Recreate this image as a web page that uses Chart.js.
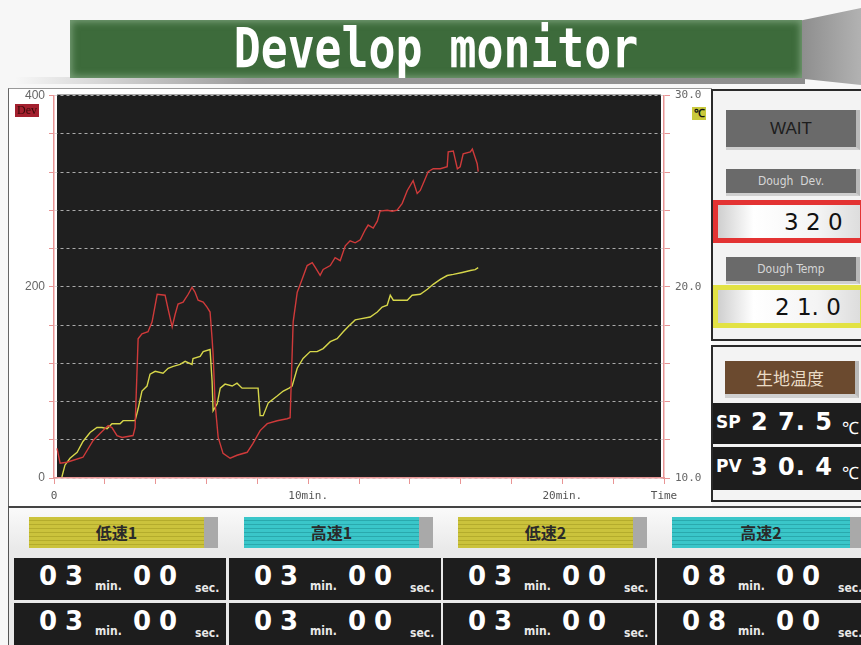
<!DOCTYPE html>
<html>
<head>
<meta charset="utf-8">
<script src="https://cdn.jsdelivr.net/npm/chart.js@4.4.1/dist/chart.umd.min.js"></script>
<style>
  body { margin:0; width:861px; height:645px; background:#f7f7f7; position:relative; overflow:hidden; font-family:'Liberation Sans', sans-serif; }
  .a { position:absolute; box-sizing:border-box; }
  .title { left:70px; top:20px; width:732px; height:58px; background:#3d6b3b; box-shadow: inset 0 0 7px 2px rgba(170,200,170,.55); overflow:hidden; }
  .title span { position:absolute; left:0; right:0; top:-5px; text-align:center; font-family:'DejaVu Sans Mono', monospace; font-weight:bold; font-size:56px; color:#fff; transform:scaleX(0.8); }
  .btn { background:#6a6a6a; text-align:center; border-right:4px solid #b9b9b9; border-bottom:3px solid #cfcfcf; }
  .lbl { color:#d6d6d6; font-family:'DejaVu Sans Condensed','DejaVu Sans',sans-serif; font-size:12px; }
  .valbox { left:713px; width:152px; height:43px; background:linear-gradient(90deg,#cfcfcf,#fff 25%,#f4f4f4 70%,#ddd); font-family:'DejaVu Sans',sans-serif; font-size:23px; color:#111; }
  .dark { background:#1d1d1d; color:#fff; }
  .big { font-family:'DejaVu Sans',sans-serif; font-weight:bold; }
  .stage { height:31px; text-align:center; line-height:31px; font-family:'Noto Sans CJK JP',sans-serif; font-weight:bold; font-size:16px; color:#2a2a2a; border-right:14px solid #a9a9a9; }
  .yel { background:repeating-linear-gradient(0deg,#cbc33c 0 3px,#b4ac2c 3px 4px); }
  .cyn { background:repeating-linear-gradient(0deg,#3ac6c9 0 3px,#2aa9ad 3px 4px); }
  .unit { font-family:'DejaVu Sans Condensed','DejaVu Sans',sans-serif; font-weight:bold; font-size:12px; color:#e8e8e8; }
</style>
</head>
<body>
<!-- title -->
<div class="a" style="left:15px;top:77px;width:790px;height:7px;background:linear-gradient(90deg,rgba(150,150,150,0),#9a9a9a 30%,#8c8c8c);"></div>
<div class="a" style="left:802px;top:8px;width:59px;height:77px;background:linear-gradient(90deg,#8e8e8e,#b2b2b2);clip-path:polygon(0 16%,100% 0,100% 100%,0 92%);"></div>
<div class="a title"><span>Develop monitor</span></div>

<!-- chart frame -->
<div class="a" style="left:8px;top:88px;width:704px;height:419px;background:#fff;border-left:1px solid #666;border-top:1px solid #999;"></div>
<div class="a" style="left:8px;top:84px;width:702px;height:421px;"><canvas id="chart" width="702" height="421"></canvas></div>
<div class="a" style="left:15px;top:104px;width:24px;height:13px;background:#a3202e;color:#3a0a0a;font-family:'Liberation Serif',serif;font-size:12px;line-height:13px;text-align:center;">Dev</div>
<div class="a" style="left:692px;top:107px;width:14px;height:13px;background:#c9c93c;color:#111;font-size:11px;line-height:13px;text-align:center;font-weight:bold;">℃</div>

<!-- right panel -->
<div class="a" style="left:711px;top:89px;width:152px;height:252px;border:2px solid #2a2a2a;background:#f3f3f3;"></div>
<div class="a btn" style="left:726px;top:110px;width:134px;height:40px;line-height:37px;font-size:17px;color:#1d1d1d;">WAIT</div>
<div class="a btn lbl" style="left:726px;top:169px;width:134px;height:27px;line-height:24px;">Dough&nbsp; Dev.</div>
<div class="a valbox" style="top:200px;border:5px solid #e33333;"><span class="a" style="left:66px;top:4px;">3 2 0</span></div>
<div class="a btn lbl" style="left:726px;top:257px;width:134px;height:27px;line-height:24px;">Dough Temp</div>
<div class="a valbox" style="top:285px;border:5px solid #e2e244;"><span class="a" style="left:57px;top:4px;">2 1. 0</span></div>

<div class="a" style="left:711px;top:345px;width:152px;height:157px;border:2px solid #2a2a2a;background:#f3f3f3;"></div>
<div class="a" style="left:725px;top:361px;width:134px;height:37px;background:#6b4a2f;border-right:4px solid #b9b9b9;border-bottom:4px solid #cfcfcf;color:#eadcc6;font-family:'Noto Sans CJK JP',sans-serif;font-size:17px;line-height:33px;text-align:center;">生地温度</div>
<div class="a dark" style="left:713px;top:403px;width:150px;height:41px;">
  <span class="a big" style="left:3px;top:9px;font-size:17px;">SP</span>
  <span class="a big" style="left:38px;top:5px;font-size:24px;letter-spacing:1px;">2 7. 5</span>
  <span class="a" style="left:129px;top:13px;font-size:17px;">℃</span>
</div>
<div class="a dark" style="left:713px;top:447px;width:150px;height:43px;">
  <span class="a big" style="left:3px;top:9px;font-size:17px;">PV</span>
  <span class="a big" style="left:38px;top:6px;font-size:24px;letter-spacing:1px;">3 0. 4</span>
  <span class="a" style="left:129px;top:14px;font-size:17px;">℃</span>
</div>

<!-- bottom panel -->
<div class="a" style="left:8px;top:506px;width:860px;height:145px;border-left:1px solid #555;border-top:2px solid #444;background:linear-gradient(#fafafa,#e9e9e9 30%);"></div>
<div id="stages"></div>

<script>
// chart data (time in minutes)
const devTime = [0.12, 0.24, 0.51, 1.14, 1.54, 1.81, 2.13, 2.28, 2.48, 2.68, 3.11, 3.19, 3.31, 3.46, 3.70, 3.86, 4.06, 4.37, 4.49, 4.65, 4.76, 4.88, 5.08, 5.28, 5.43, 5.55, 5.67, 5.87, 6.02, 6.14, 6.22, 6.26, 6.34, 6.46, 6.65, 6.93, 7.20, 7.60, 7.83, 8.11, 8.39, 8.78, 9.17, 9.29, 9.41, 9.57, 9.69, 9.96, 10.16, 10.28, 10.47, 10.59, 10.87, 11.06, 11.26, 11.46, 11.65, 11.85, 12.05, 12.24, 12.36, 12.56, 12.72, 12.83, 13.11, 13.31, 13.50, 13.70, 13.90, 14.13, 14.29, 14.41, 14.61, 14.72, 14.92, 15.20, 15.47, 15.51, 15.71, 15.87, 15.98, 16.10, 16.38, 16.46, 16.65, 16.69];
const devValues = [31, 15.5, 16.5, 21.7, 39.3, 46.5, 54.8, 52.7, 44.4, 42.4, 44.4, 52.7, 145.7, 150.9, 153, 163.3, 192.2, 191.2, 176.7, 158.1, 170.5, 181.9, 184, 192.2, 199.5, 194.3, 186, 184, 178.8, 173.6, 145.7, 129.2, 77.5, 42.4, 25.8, 20.7, 23.8, 26.9, 36.2, 49.6, 56.8, 59.9, 62, 63, 163.3, 194.3, 202.6, 222.2, 225.3, 220.2, 211.9, 218.1, 222.2, 230.5, 227.4, 242.9, 248.1, 246, 249.1, 259.4, 264.6, 261.5, 268.7, 279.1, 280.1, 279.1, 280.1, 287.3, 300.8, 311.1, 297.7, 300.8, 313.2, 320.4, 323.5, 323.5, 325.6, 341.1, 342.1, 323.5, 325.6, 339, 341.1, 344.2, 328.7, 320.4];
const tempTime = [0.31, 0.43, 0.63, 0.91, 1.14, 1.42, 1.69, 1.89, 2.09, 2.28, 2.60, 2.72, 3.19, 3.31, 3.46, 3.66, 3.78, 3.98, 4.29, 4.49, 4.69, 4.96, 5.16, 5.43, 5.47, 5.75, 5.87, 6.14, 6.22, 6.26, 6.42, 6.54, 6.73, 7.01, 7.20, 7.40, 8.03, 8.11, 8.23, 8.43, 8.78, 9.02, 9.25, 9.37, 9.57, 9.80, 10.08, 10.35, 10.59, 10.87, 11.14, 11.38, 11.57, 11.85, 12.05, 12.44, 12.72, 12.91, 13.11, 13.23, 13.35, 13.90, 14.09, 14.41, 14.69, 14.92, 15.20, 15.47, 15.71, 16.06, 16.38, 16.57, 16.69];
const tempValues = [10.05, 10.67, 11.03, 11.34, 11.91, 12.38, 12.64, 12.64, 12.58, 12.84, 12.84, 13.0, 13.0, 13.62, 14.55, 14.81, 15.43, 15.58, 15.48, 15.74, 15.84, 15.94, 16.10, 15.94, 16.25, 16.36, 16.61, 16.72, 15.06, 13.51, 13.88, 14.70, 14.91, 14.81, 14.96, 14.70, 14.70, 13.26, 13.26, 13.93, 14.29, 14.55, 14.70, 14.81, 15.74, 16.25, 16.61, 16.61, 16.77, 17.13, 17.29, 17.65, 17.91, 18.27, 18.32, 18.42, 18.68, 18.94, 19.04, 19.56, 19.30, 19.30, 19.56, 19.61, 19.87, 20.13, 20.39, 20.59, 20.65, 20.75, 20.85, 20.90, 21.0];

const timeTickLabels = { 0: '0', 10: '10min.', 20: '20min.', 24: 'Time' };
const devTickLabels = [0, 200, 400];
const tempTickLabels = [10, 20, 30];

// bottom panel texts
const stageNames = ['低速1', '高速1', '低速2', '高速2'];
const stageSetMin = ['03', '03', '03', '08'];
const stageSetSec = ['00', '00', '00', '00'];
const stageNowMin = ['03', '03', '03', '08'];
const stageNowSec = ['00', '00', '00', '00'];

const colLeft = [13, 228, 442, 656];
let html = '';
stageNames.forEach((name, i) => {
  const L = colLeft[i];
  const cls = i % 2 === 0 ? 'yel' : 'cyn';
  html += `<div class="a stage ${cls}" style="left:${L + 16}px;top:517px;width:${i === 3 ? 192 : 189}px;">${name}</div>`;
  [[stageSetMin, stageSetSec, 558], [stageNowMin, stageNowSec, 603]].forEach(([mm, ss, top]) => {
    html += `<div class="a dark" style="left:${L + 1}px;top:${top}px;width:${i === 3 ? 210 : 212}px;height:42px;">
      <span class="a big" style="left:25px;top:3px;font-size:26px;letter-spacing:8px;">${mm[i]}</span>
      <span class="a unit" style="left:81px;top:21px;">min.</span>
      <span class="a big" style="left:119px;top:3px;font-size:26px;letter-spacing:8px;">${ss[i]}</span>
      <span class="a unit" style="left:181px;top:23px;">sec.</span>
    </div>`;
  });
});
document.getElementById('stages').innerHTML = html;

const pink = '#e99595';
const darkBg = {
  id: 'darkBg',
  beforeDraw(chart) {
    const a = chart.chartArea;
    const ctx = chart.ctx;
    ctx.save();
    ctx.fillStyle = '#1f1f1f';
    ctx.fillRect(a.left + 3, a.top - 1, a.right - a.left - 6, a.bottom - a.top);
    ctx.restore();
  }
};

const tickFont = { family: 'DejaVu Sans Mono', size: 11 };

new Chart(document.getElementById('chart'), {
  type: 'line',
  data: {
    datasets: [
      {
        label: 'Dev',
        data: devTime.map((t, i) => ({ x: t, y: devValues[i] })),
        borderColor: '#cf3a3a',
        borderWidth: 1.4,
        pointRadius: 0,
        yAxisID: 'y'
      },
      {
        label: 'Temp',
        data: tempTime.map((t, i) => ({ x: t, y: tempValues[i] })),
        borderColor: '#d6d64a',
        borderWidth: 1.4,
        pointRadius: 0,
        yAxisID: 'y1'
      }
    ]
  },
  options: {
    responsive: false,
    animation: false,
    layout: { padding: { top: 7 } },
    plugins: { legend: { display: false }, tooltip: { enabled: false } },
    scales: {
      x: {
        type: 'linear', min: 0, max: 24,
        afterFit(s) { s.height = 27; },
        ticks: { stepSize: 2, autoSkip: false, maxRotation: 0, padding: 6, color: '#555', font: tickFont,
          callback: v => timeTickLabels[v] ?? '' },
        grid: { drawOnChartArea: false, color: pink, tickLength: 6 },
        border: { color: pink, width: 1.5 }
      },
      y: {
        position: 'left', min: 0, max: 400,
        afterFit(s) { s.width = 46; },
        ticks: { stepSize: 40, padding: 4, color: '#666', font: { family: 'Liberation Sans', size: 12 },
          callback: v => devTickLabels.includes(v) ? String(v) : '' },
        grid: { color: 'rgba(205,205,205,0.8)', tickColor: pink, tickLength: 5, tickBorderDash: [] },
        border: { color: pink, width: 1.5, dash: [3, 3] }
      },
      y1: {
        position: 'right', min: 10, max: 30,
        afterFit(s) { s.width = 46; },
        ticks: { stepSize: 2, padding: 5, color: '#666', font: tickFont,
          callback: v => tempTickLabels.includes(v) ? v.toFixed(1) : '' },
        grid: { drawOnChartArea: false, color: pink, tickLength: 6 },
        border: { color: pink, width: 1.5 }
      }
    }
  },
  plugins: [darkBg]
});
</script>
</body>
</html>
